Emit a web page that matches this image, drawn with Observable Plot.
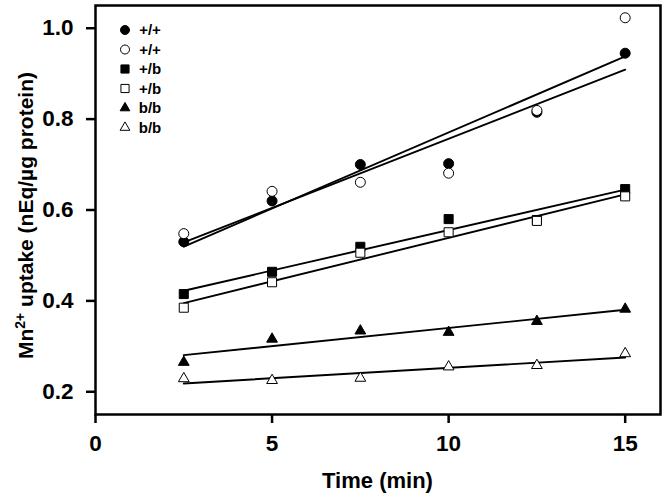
<!DOCTYPE html>
<html>
<head>
<meta charset="utf-8">
<script src="https://cdn.jsdelivr.net/npm/d3@7"></script>
<script src="https://cdn.jsdelivr.net/npm/@observablehq/plot@0.6"></script>
<style>
  html, body { margin: 0; padding: 0; background: #fff; }
  #chart svg { display: block; }
</style>
</head>
<body>
<div id="chart"></div>
<script>
// Time points (min)
const times = [2.5, 5, 7.5, 10, 12.5, 15];
// Mn2+ uptake (nEq/µg protein) per genotype / replicate
const wtFilled  = [0.530, 0.620, 0.700, 0.702, 0.815, 0.945];
const wtOpen    = [0.548, 0.641, 0.661, 0.681, 0.819, 1.023];
const hetFilled = [0.415, 0.464, 0.519, 0.580, 0.578, 0.646];
const hetOpen   = [0.385, 0.441, 0.506, 0.551, 0.576, 0.630];
const homFilled = [0.265, 0.316, 0.334, 0.331, 0.355, 0.382];
const homOpen   = [0.229, 0.225, 0.230, 0.255, 0.258, 0.284];

const seriesLabels = ["+/+", "+/+", "+/b", "+/b", "b/b", "b/b"];
const seriesValues = [wtFilled, wtOpen, hetFilled, hetOpen, homFilled, homOpen];
const seriesSymbols = ["circle", "circle", "square", "square", "triangle", "triangle"];
const seriesFilled = [true, false, true, false, true, false];
const xTicks = [0, 5, 10, 15];
const yTicks = [0.2, 0.4, 0.6, 0.8, 1.0];

const symbolR = {circle: 5, square: 5.1, triangle: 4.0};

const rows = [];
seriesValues.forEach((vals, i) => {
  vals.forEach((v, j) => rows.push({t: times[j], v, series: i}));
});

const dotMarks = seriesValues.map((vals, i) =>
  Plot.dot(rows.filter(d => d.series === i), {
    x: "t", y: "v",
    symbol: () => seriesSymbols[i],
    r: symbolR[seriesSymbols[i]],
    fill: seriesFilled[i] ? "black" : "white",
    stroke: "black",
    strokeWidth: 1
  })
);

const W = 666, H = 500;
const mL = 95, mR = 6, mT = 5, mB = 86;

const chart = Plot.plot({
  width: W, height: H,
  marginLeft: mL, marginRight: mR, marginTop: mT, marginBottom: mB,
  style: {fontFamily: "'Liberation Sans', Arial, sans-serif", fontWeight: "bold", color: "black", background: "white"},
  x: {domain: [0, 16]},
  y: {domain: [0.15, 1.05]},
  marks: [
    Plot.linearRegressionY(rows, {x: "t", y: "v", z: "series", stroke: "black", strokeWidth: 1.9, ci: 0}),
    ...dotMarks,
    Plot.frame({stroke: "black", strokeWidth: 2.5}),
    Plot.axisX({ticks: xTicks, tickSize: 9, tickPadding: 12, strokeWidth: 2.5, fontSize: 22.5, label: null}),
    Plot.axisY({ticks: yTicks, tickFormat: d3.format(".1f"), tickSize: 9, tickPadding: 13, strokeWidth: 2.5, fontSize: 22.5, label: null})
  ]
});

document.getElementById("chart").appendChild(chart);

const svg = d3.select(chart);
// Axis titles
svg.append("text")
  .attr("x", (mL + W - mR) / 2).attr("y", 488)
  .attr("text-anchor", "middle")
  .attr("font-size", 22).attr("font-weight", "bold")
  .attr("fill", "black")
  .text("Time (min)");

const yl = svg.append("text")
  .attr("transform", `translate(33, ${(mT + H - mB) / 2 + 6}) rotate(-90)`)
  .attr("text-anchor", "middle")
  .attr("font-size", 21).attr("font-weight", "bold")
  .attr("fill", "black");
yl.append("tspan").text("Mn");
yl.append("tspan").attr("baseline-shift", "super").attr("font-size", 14).text("2+");
yl.append("tspan").text(" uptake (nEq/µg protein)");

// Legend
const lg = svg.append("g");
seriesLabels.forEach((lab, i) => {
  const y = 30 + i * 19.5;
  const s = seriesSymbols[i];
  const r = symbolR[s] * 0.9;
  const sym = s === "circle" ? d3.symbolCircle : s === "square" ? d3.symbolSquare : d3.symbolTriangle;
  lg.append("path")
    .attr("d", d3.symbol(sym, r * r * Math.PI)())
    .attr("transform", `translate(125, ${y})`)
    .attr("fill", seriesFilled[i] ? "black" : "white")
    .attr("stroke", "black").attr("stroke-width", 1);
  lg.append("text")
    .attr("x", 150).attr("y", y).attr("dy", "0.36em")
    .attr("font-size", 15).attr("font-weight", "bold").attr("fill", "black")
    .text(lab);
});
</script>
</body>
</html>
